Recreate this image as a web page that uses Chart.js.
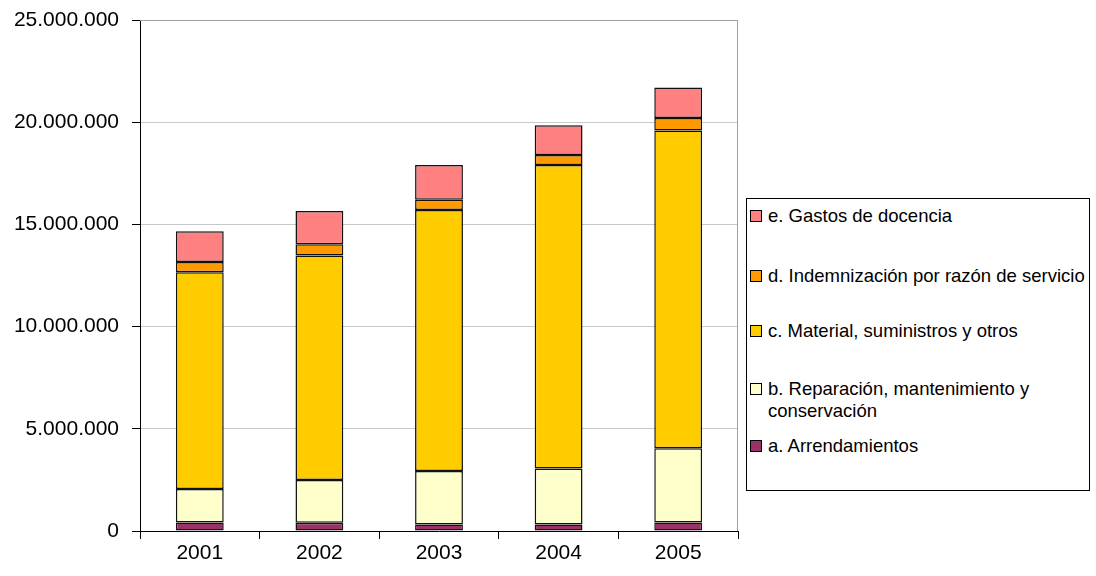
<!DOCTYPE html>
<html>
<head>
<meta charset="utf-8">
<script src="https://cdn.jsdelivr.net/npm/chart.js@4/dist/chart.umd.min.js"></script>
<style>
  html, body { margin: 0; padding: 0; background: #fff; }
  #wrap { position: relative; width: 1096px; height: 576px; }
  #legend {
    position: absolute; left: 746px; top: 198px; width: 344px; height: 293px;
    border: 1px solid #000; box-sizing: border-box; background: #fff;
    font-family: "Liberation Sans", Arial, sans-serif; font-size: 18.5px; color: #000;
  }
  .item { position: absolute; left: 3px; display: flex; align-items: flex-start; line-height: 22px; white-space: nowrap; }
  .item.wrap { white-space: normal; width: 300px; }
  .box { width: 10px; height: 10px; border: 1.5px solid #000; margin: 5px 6px 0 0; flex: none; }
</style>
</head>
<body>
<div id="wrap">
  <canvas id="c" width="1096" height="576"></canvas>
  <div id="legend"></div>
</div>
<script>
const years = ["2001", "2002", "2003", "2004", "2005"];
const seriesNames = [
  "a. Arrendamientos",
  "b. Reparación, mantenimiento y conservación",
  "c. Material, suministros y otros",
  "d. Indemnización por razón de servicio",
  "e. Gastos de docencia"
];
const arrendamientos = [420000, 400000, 320000, 320000, 420000];
const reparacion = [1640000, 2100000, 2620000, 2740000, 3630000];
const material = [10600000, 10980000, 12760000, 14840000, 15550000];
const indemnizacion = [500000, 550000, 500000, 500000, 600000];
const docencia = [1500000, 1620000, 1700000, 1450000, 1500000];
const yTicks = [0, 5000000, 10000000, 15000000, 20000000, 25000000];

const colors = ["#993366", "#FFFFCC", "#FFCC00", "#FF9900", "#FF8080"];
const values = [arrendamientos, reparacion, material, indemnizacion, docencia];

const fmt = v => String(v).replace(/\B(?=(\d{3})+(?!\d))/g, ".");
const font = '"Liberation Sans", Arial, sans-serif';

const frame = {
  id: 'frame',
  beforeDatasetsDraw(chart) {
    const a = chart.chartArea, ctx = chart.ctx;
    ctx.save();
    ctx.strokeStyle = '#a0a0a0';
    ctx.lineWidth = 1;
    ctx.beginPath();
    ctx.moveTo(a.left, a.top + 0.5);
    ctx.lineTo(a.right - 0.5, a.top + 0.5);
    ctx.lineTo(a.right - 0.5, a.bottom);
    ctx.stroke();
    ctx.restore();
  }
};

new Chart(document.getElementById('c'), {
  type: 'bar',
  data: {
    labels: years,
    datasets: seriesNames.map((name, i) => ({
      label: name,
      data: values[i],
      backgroundColor: colors[i],
      borderColor: '#111',
      borderWidth: 1.5,
      borderSkipped: false,
      categoryPercentage: 1,
      barPercentage: 0.4
    }))
  },
  options: {
    responsive: false,
    animation: false,
    layout: { padding: { top: 20, right: 358, bottom: 0, left: 0 } },
    plugins: { legend: { display: false }, tooltip: { enabled: false } },
    scales: {
      x: {
        stacked: true,
        grid: { display: true, drawOnChartArea: false, offset: true, color: '#000', tickLength: 8 },
        border: { color: '#000', width: 1 },
        ticks: { color: '#000', font: { family: font, size: 21 }, padding: 2 },
        afterFit(s) { s.height = 45; }
      },
      y: {
        stacked: true,
        min: 0, max: 25000000,
        afterBuildTicks(s) { s.ticks = yTicks.map(v => ({ value: v })); },
        grid: { color: '#c8c8c8', tickColor: '#000', tickLength: 8 },
        border: { color: '#000', width: 1 },
        ticks: {
          color: '#000',
          font: { family: font, size: 21 },
          padding: 13,
          callback: v => fmt(v)
        },
        afterFit(s) { s.width = 140; s.paddingTop = 0; s.paddingBottom = 0; }
      }
    }
  },
  plugins: [frame]
});

// legend, reversed order like the original
const legendTops = [236, 179, 121, 66, 6];
const legend = document.getElementById('legend');
seriesNames.forEach((name, i) => {
  const it = document.createElement('div');
  it.className = i === 1 ? 'item wrap' : 'item';
  it.style.top = legendTops[i] + 'px';
  it.innerHTML = '<div class="box" style="background:' + colors[i] + '"></div><div>' + name + '</div>';
  legend.appendChild(it);
});
</script>
</body>
</html>
